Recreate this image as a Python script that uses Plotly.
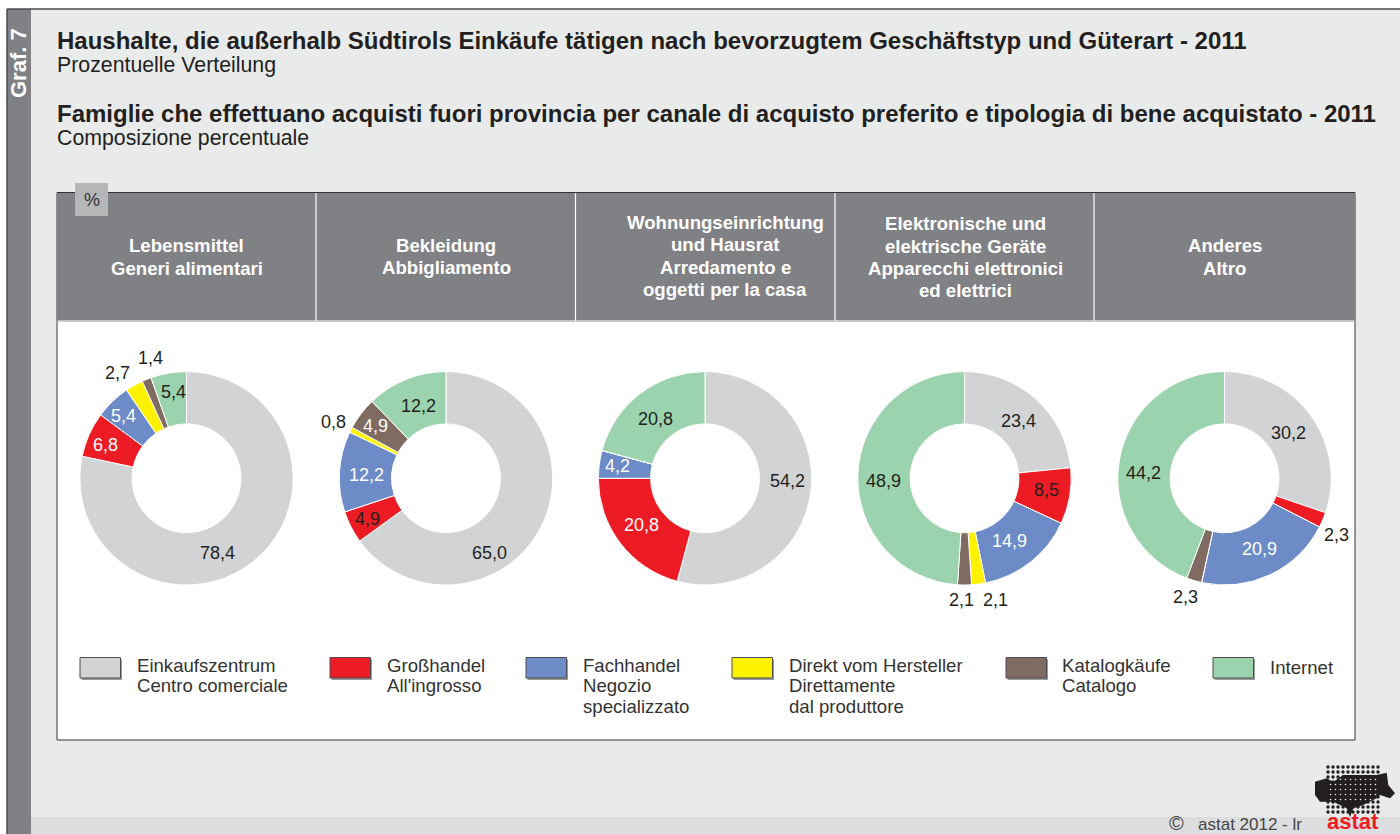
import plotly.graph_objects as go

W, H = 1400, 834
FONT = "Liberation Sans"
DARK = "#231f20"
PAGE_BG = "#e9ebea"

# ---------- data ----------
series_names = ["Einkaufszentrum / Centro comerciale", "Großhandel / All'ingrosso",
                "Fachhandel / Negozio specializzato", "Direkt vom Hersteller / Direttamente dal produttore",
                "Katalogkäufe / Catalogo", "Internet"]
colors = ["#d1d3d4", "#ed1c24", "#6d8cc7", "#fff200", "#806b63", "#9bd3ae"]

lebensmittel = [78.4, 6.8, 5.4, 2.7, 1.4, 5.4]
bekleidung = [65.0, 4.9, 12.2, 0.8, 4.9, 12.2]
wohnung = [54.2, 20.8, 4.2, 0, 0, 20.8]
elektronik = [23.4, 8.5, 14.9, 2.1, 2.1, 48.9]
anderes = [30.2, 2.3, 20.9, 0, 2.3, 44.2]
all_values = [lebensmittel, bekleidung, wohnung, elektronik, anderes]

# ---------- layout of the page ----------
centers_x = [186.5, 446, 705, 964.5, 1224.5]
center_y, radius = 478.3, 106.7

# label placement per chart / per slice (None = no label)
WH, DK = "#ffffff", DARK
label_pos = [
    [(217, 553, DK), (105, 445, WH), (123, 416, WH), (117, 373, DK), (150, 358, DK), (173, 392, DK)],
    [(489, 553, DK), (367, 519, DK), (366, 475, WH), (333, 422, DK), (375, 426, WH), (418, 406, DK)],
    [(787, 481, DK), (641, 525, WH), (617, 466, WH), None, None, (655, 419, DK)],
    [(1018, 421, DK), (1046, 490, DK), (1009, 541, WH), (995, 600, DK), (961, 600, DK), (883, 481, DK)],
    [(1288, 433, DK), (1336, 535, DK), (1259, 549, WH), None, (1185, 597, DK), (1143, 473, DK)],
]

header_lines = [
    (186.5, [("Lebensmittel", 245), ("Generi alimentari", 268)]),
    (446, [("Bekleidung", 245), ("Abbigliamento", 267)]),
    (725, [("Wohnungseinrichtung", 222), ("und Hausrat", 244), ("Arredamento e", 267), ("oggetti per la casa", 289)]),
    (965, [("Elektronische und", 223.5), ("elektrische Geräte", 246), ("Apparecchi elettronici", 268), ("ed elettrici", 290)]),
    (1224.5, [("Anderes", 245), ("Altro", 268)]),
]
separators_x = [316, 575.5, 835, 1094]

legend_items = [
    (80, 137, ["Einkaufszentrum", "Centro comerciale"]),
    (330, 387, ["Großhandel", "All'ingrosso"]),
    (526, 583, ["Fachhandel", "Negozio", "specializzato"]),
    (732, 789, ["Direkt vom Hersteller", "Direttamente", "dal produttore"]),
    (1006, 1062, ["Katalogkäufe", "Catalogo"]),
    (1213, 1270, ["Internet"]),
]

fig = go.Figure()
shapes, ann = [], []


def rect(x0, y0, x1, y1, fill, line=None, lw=1):
    shapes.append(dict(type="rect", xref="x", yref="y", x0=x0, y0=y0, x1=x1, y1=y1,
                       fillcolor=fill, line=dict(color=line or fill, width=lw if line else 0), layer="below"))


def text(x, y, s, size=18, color=DARK, bold=False, anchor="left", angle=0, vanchor="middle"):
    ann.append(dict(xref="x", yref="y", x=x, y=y, text=f"<b>{s}</b>" if bold else s, showarrow=False,
                    xanchor=anchor, yanchor=vanchor, textangle=angle, borderpad=0, borderwidth=0,
                    font=dict(family=FONT, size=size, color=color)))


# background frame
rect(7, 9, W + 2, H + 2, PAGE_BG)
rect(31, 817, W + 2, H + 2, "#dcddde")
rect(7, 9, 31, H + 2, "#808184")
shapes.append(dict(type="line", xref="x", yref="y", x0=7, y0=9, x1=W, y1=9, line=dict(color="#4d4d4f", width=1.5), layer="below"))
shapes.append(dict(type="line", xref="x", yref="y", x0=7, y0=9, x1=7, y1=H, line=dict(color="#4d4d4f", width=1.5), layer="below"))

# panel
rect(57, 192.5, 1355, 740, "#ffffff", "#333333", 1)
rect(57, 193, 1355, 320.5, "#808184")
shapes.append(dict(type="line", xref="x", yref="y", x0=57, y0=321.5, x1=1355, y1=321.5, line=dict(color="#c9cacb", width=1), layer="below"))
for sx in separators_x:
    shapes.append(dict(type="line", xref="x", yref="y", x0=sx, y0=193, x1=sx, y1=321, line=dict(color="#ffffff", width=1.2), layer="below"))
rect(75, 183, 108, 216, "#b5b6b8")
text(92, 200, "%", 18, "#333333", anchor="center")

# titles
text(57, 40, "Haushalte, die außerhalb Südtirols Einkäufe tätigen nach bevorzugtem Geschäftstyp und Güterart - 2011", 24, bold=True)
text(57, 65, "Prozentuelle Verteilung", 21.3)
text(57, 113, "Famiglie che effettuano acquisti fuori provincia per canale di acquisto preferito e tipologia di bene acquistato - 2011", 24, bold=True)
text(57, 138, "Composizione percentuale", 21.3)
text(18, 63, "Graf. 7", 22, "#ffffff", bold=True, anchor="center", angle=-90)

# header labels
for hx, lines in header_lines:
    for s, y in lines:
        text(hx, y, s, 18.6, "#ffffff", bold=True, anchor="center")

# donuts
for values, cx, positions in zip(all_values, centers_x, label_pos):
    fig.add_trace(go.Pie(
        values=values, labels=series_names, sort=False, direction="clockwise", rotation=0, hole=0.51,
        marker=dict(colors=colors, line=dict(color="#ffffff", width=1)), textinfo="none", showlegend=False,
        domain=dict(x=[(cx - radius) / W, (cx + radius) / W],
                    y=[1 - (center_y + radius) / H, 1 - (center_y - radius) / H])))
    for v, p in zip(values, positions):
        if p is not None:
            text(p[0], p[1], f"{v:.1f}".replace(".", ","), 18, p[2], anchor="center")

# legend
for (sw, tx, lines), c in zip(legend_items, colors):
    rect(sw + 1.5, 659.5, sw + 42, 680, "#9a9a9a")
    rect(sw, 657.5, sw + 40.5, 678, c, "#4d4d4f", 1)
    y0 = 667 if len(lines) == 1 else 665
    for i, s in enumerate(lines):
        text(tx, y0 + i * 20.7, s, 18.6, "#333333")

# footer
text(1169, 834, "©", 20, "#444444", vanchor="bottom")
text(1198, 834, "astat 2012 - lr", 17, "#444444", vanchor="bottom")
text(1352.5, 834, "astat", 22, "#ed1c24", bold=True, anchor="center", vanchor="bottom")
blob = [(645, 155), (680, 145), (700, 155), (730, 135), (830, 135), (860, 128), (865, 165), (885, 190),
        (870, 205), (840, 195), (830, 205), (790, 225), (760, 235), (750, 262), (740, 235), (700, 215),
        (660, 215), (645, 195)]
shapes.append(dict(type="path", xref="x", yref="y", fillcolor=DARK, line=dict(width=0), layer="below",
                   path="M" + "L".join(f"{1100 + a / 3:.1f},{730 + b / 3:.1f}" for a, b in blob) + "Z"))
dots_x = [1328 + 5 * i for i in range(11)]
dots_y = [767 + 5 * j for j in range(10)]
fig.add_trace(go.Scatter(x=[x for x in dots_x for _ in dots_y], y=[y for _ in dots_x for y in dots_y],
                         mode="markers", marker=dict(size=3.4, color=DARK), hoverinfo="skip", showlegend=False))
gaps_x = [1330.5 + 5 * i for i in range(10)]
gaps_y = [779.5 + 5 * j for j in range(5)]
fig.add_trace(go.Scatter(x=[x for x in gaps_x for _ in gaps_y], y=[y for _ in gaps_x for y in gaps_y],
                         mode="markers", marker=dict(size=1.6, color=PAGE_BG), hoverinfo="skip", showlegend=False))

fig.update_layout(
    width=W, height=H, margin=dict(l=0, r=0, t=0, b=0), paper_bgcolor="#ffffff", plot_bgcolor="rgba(0,0,0,0)",
    xaxis=dict(range=[0, W], visible=False, fixedrange=True),
    yaxis=dict(range=[H, 0], visible=False, fixedrange=True),
    shapes=shapes, annotations=ann, font=dict(family=FONT),
)
fig.write_html("out.html", config=dict(displayModeBar=False),
               post_script="document.body.style.margin='0';document.documentElement.style.overflow='hidden';")
